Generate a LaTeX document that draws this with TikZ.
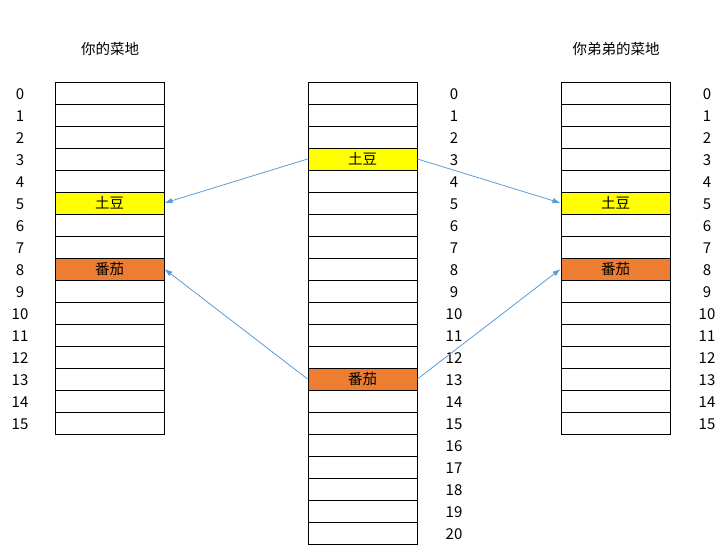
\documentclass[tikz,border=0pt]{standalone}
\usepackage{fontspec}
\newfontfamily\cjk{Noto Sans CJK SC}
\usetikzlibrary{arrows.meta}
\definecolor{tudou}{HTML}{FFFF00}
\definecolor{fanqie}{HTML}{ED7D31}
\definecolor{jiantou}{HTML}{5B9BD5}
\begin{document}
\begin{tikzpicture}[x=1pt,y=-1pt,
	cell/.style={draw,line width=0.9pt,minimum width=109pt,minimum height=22pt,inner sep=0pt,font=\cjk\fontsize{14.5}{16}\selectfont},
	num/.style={inner sep=0pt,font=\cjk\fontsize{15}{16}\selectfont},
	title/.style={inner sep=0pt,font=\cjk\fontsize{14.5}{16}\selectfont},
	arr/.style={draw=jiantou,line width=0.8pt,-{Latex[length=8pt,width=5.5pt]}}]
	\useasboundingbox (0,0) rectangle (726,557);
	\path 
		(110,49) node[title] (tL) {你的菜地}
		(616,49) node[title] (tR) {你弟弟的菜地}
		;
	% the two small plots
	\foreach \i in {0,...,15}{
		\path 
			(109.5,93+22*\i) node[cell] (L\i) {}
			(20,94+22*\i) node[num] (nL\i) {\i}
			(615.5,93+22*\i) node[cell] (R\i) {}
			(707,94+22*\i) node[num] (nR\i) {\i}
			;
	}
	% the big plot
	\foreach \i in {0,...,20}{
		\path 
			(362.5,93+22*\i) node[cell] (M\i) {}
			(454,94+22*\i) node[num] (nM\i) {\i}
			;
	}
	\path 
		(L5) node[cell,fill=tudou] {土豆}
		(L8) node[cell,fill=fanqie] {番茄}
		(M3) node[cell,fill=tudou] {土豆}
		(M13) node[cell,fill=fanqie] {番茄}
		(R5) node[cell,fill=tudou] {土豆}
		(R8) node[cell,fill=fanqie] {番茄}
		;
		
	\draw[arr] (M3.west) -- (L5.east);
	\draw[arr] (M3.east) -- (R5.west);
	\draw[arr] (M13.west) -- (L8.east);
	\draw[arr] (M13.east) -- (R8.west);
\end{tikzpicture}
\end{document}
